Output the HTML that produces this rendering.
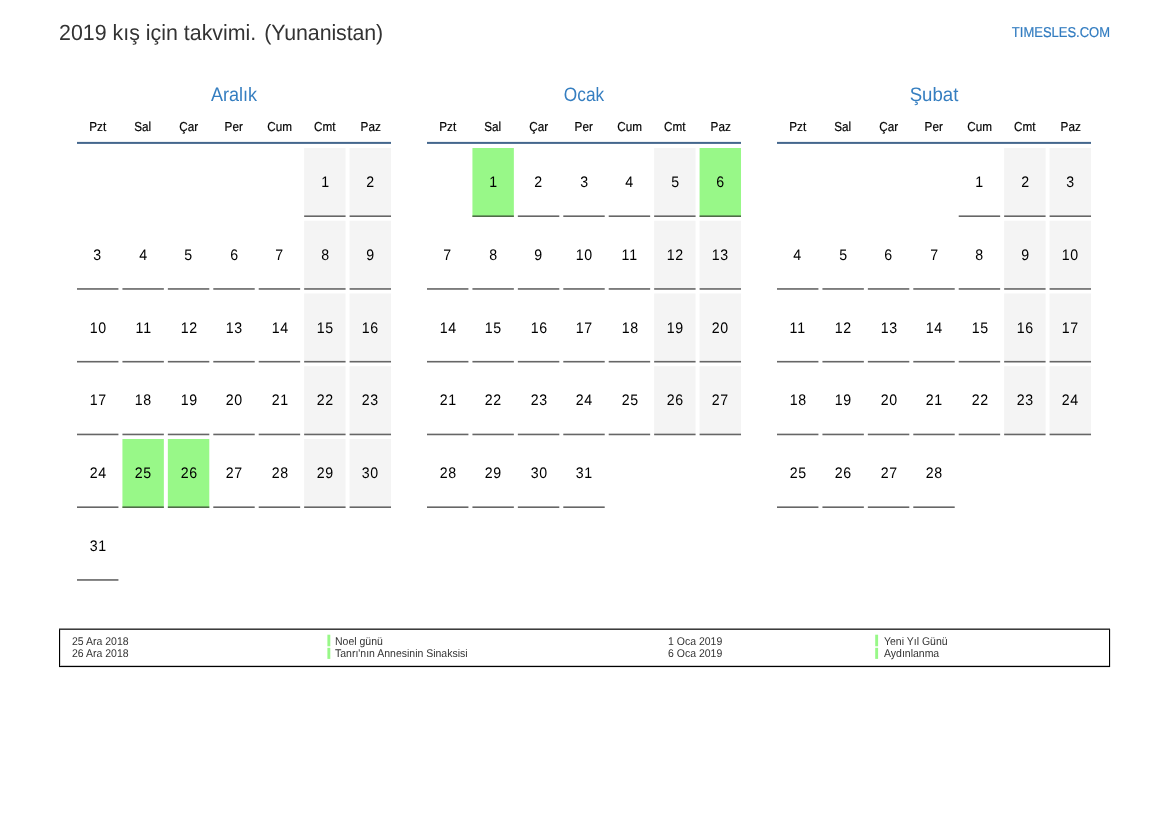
<!DOCTYPE html>
<html lang="tr"><head><meta charset="utf-8"><title>2019 kış için takvimi</title>
<style>
html,body{margin:0;padding:0;background:#fff;}
body{width:1169px;height:827px;position:relative;overflow:hidden;font-family:"Liberation Sans",sans-serif;color:#000;text-rendering:geometricPrecision;}
.abs{position:absolute;white-space:nowrap;}
#pg{position:absolute;left:0;top:0;width:1169px;height:827px;will-change:transform;}
.title{left:59px;top:19.5px;font-size:22px;line-height:26px;color:#333;transform-origin:0 50%;transform:scaleX(0.972);}
.site{right:58.7px;top:22.8px;font-size:14.3px;line-height:18px;color:#327cc0;-webkit-text-stroke:0.2px #327cc0;transform-origin:100% 50%;transform:translateY(0.6px) scaleX(0.909);}
.mname{width:314px;text-align:center;top:82.5px;font-size:19.5px;line-height:24px;color:#357ec0;transform:scaleX(0.925);}
.wd{width:41.43px;text-align:center;top:119px;font-size:13px;line-height:16px;color:#000;-webkit-text-stroke:0.2px #000;transform:translateY(-0.2px) scaleX(0.9);}
.hl{height:2px;width:314px;top:142px;background:#44678d;}
.c{width:41.43px;height:67px;text-align:center;font-size:15.25px;line-height:67px;color:#000;}
.c span{display:inline-block;letter-spacing:0.8px;margin-right:-0.8px;transform:translateY(0.75px) scaleX(0.93);}
.legend{left:59px;top:629px;width:1049px;height:36px;border:1px solid #000;border-top-color:#3c3c3c;box-shadow:0 1px 0 #e9e9e9,1px 0 0 #e2e2e2,inset 0 -1px 0 #cacaca,inset 1px 0 0 #dcdcdc;}
.legtop{left:59px;top:628px;width:1051px;height:1px;background:#909090;}
.lt{font-size:11.2px;line-height:12px;color:#333;transform-origin:0 50%;transform:translateY(0.9px) scaleX(0.9375);}
</style></head><body><div id="pg">
<div class="abs title">2019 kış için takvimi. <span style="margin-left:2.2px;letter-spacing:-0.12px">(Yunanistan)</span></div>
<div class="abs site">TIMESLES.COM</div>
<svg class="abs" style="left:0;top:0" width="1169" height="600" viewBox="0 0 1169 600"><rect x="77.0" y="141.9" width="314" height="2" fill="#44678d"/><rect x="304.15" y="148.00" width="41.43" height="67.5" fill="#f4f4f4"/><rect x="304.15" y="215.40" width="41.43" height="1.6" fill="#666"/><rect x="349.58" y="148.00" width="41.43" height="67.5" fill="#f4f4f4"/><rect x="349.58" y="215.40" width="41.43" height="1.6" fill="#666"/><rect x="77.00" y="288.15" width="41.43" height="1.6" fill="#666"/><rect x="122.43" y="288.15" width="41.43" height="1.6" fill="#666"/><rect x="167.86" y="288.15" width="41.43" height="1.6" fill="#666"/><rect x="213.29" y="288.15" width="41.43" height="1.6" fill="#666"/><rect x="258.72" y="288.15" width="41.43" height="1.6" fill="#666"/><rect x="304.15" y="220.75" width="41.43" height="67.5" fill="#f4f4f4"/><rect x="304.15" y="288.15" width="41.43" height="1.6" fill="#666"/><rect x="349.58" y="220.75" width="41.43" height="67.5" fill="#f4f4f4"/><rect x="349.58" y="288.15" width="41.43" height="1.6" fill="#666"/><rect x="77.00" y="360.90" width="41.43" height="1.6" fill="#666"/><rect x="122.43" y="360.90" width="41.43" height="1.6" fill="#666"/><rect x="167.86" y="360.90" width="41.43" height="1.6" fill="#666"/><rect x="213.29" y="360.90" width="41.43" height="1.6" fill="#666"/><rect x="258.72" y="360.90" width="41.43" height="1.6" fill="#666"/><rect x="304.15" y="293.50" width="41.43" height="67.5" fill="#f4f4f4"/><rect x="304.15" y="360.90" width="41.43" height="1.6" fill="#666"/><rect x="349.58" y="293.50" width="41.43" height="67.5" fill="#f4f4f4"/><rect x="349.58" y="360.90" width="41.43" height="1.6" fill="#666"/><rect x="77.00" y="433.65" width="41.43" height="1.6" fill="#666"/><rect x="122.43" y="433.65" width="41.43" height="1.6" fill="#666"/><rect x="167.86" y="433.65" width="41.43" height="1.6" fill="#666"/><rect x="213.29" y="433.65" width="41.43" height="1.6" fill="#666"/><rect x="258.72" y="433.65" width="41.43" height="1.6" fill="#666"/><rect x="304.15" y="366.25" width="41.43" height="67.5" fill="#f4f4f4"/><rect x="304.15" y="433.65" width="41.43" height="1.6" fill="#666"/><rect x="349.58" y="366.25" width="41.43" height="67.5" fill="#f4f4f4"/><rect x="349.58" y="433.65" width="41.43" height="1.6" fill="#666"/><rect x="77.00" y="506.40" width="41.43" height="1.6" fill="#666"/><rect x="122.43" y="439.00" width="41.43" height="69" fill="#98f888"/><rect x="122.43" y="506.40" width="41.43" height="1.6" fill="#4e6c47"/><rect x="167.86" y="439.00" width="41.43" height="69" fill="#98f888"/><rect x="167.86" y="506.40" width="41.43" height="1.6" fill="#4e6c47"/><rect x="213.29" y="506.40" width="41.43" height="1.6" fill="#666"/><rect x="258.72" y="506.40" width="41.43" height="1.6" fill="#666"/><rect x="304.15" y="439.00" width="41.43" height="67.5" fill="#f4f4f4"/><rect x="304.15" y="506.40" width="41.43" height="1.6" fill="#666"/><rect x="349.58" y="439.00" width="41.43" height="67.5" fill="#f4f4f4"/><rect x="349.58" y="506.40" width="41.43" height="1.6" fill="#666"/><rect x="77.00" y="579.15" width="41.43" height="1.6" fill="#666"/><rect x="427.0" y="141.9" width="314" height="2" fill="#44678d"/><rect x="472.43" y="148.00" width="41.43" height="69" fill="#98f888"/><rect x="472.43" y="215.40" width="41.43" height="1.6" fill="#4e6c47"/><rect x="517.86" y="215.40" width="41.43" height="1.6" fill="#666"/><rect x="563.29" y="215.40" width="41.43" height="1.6" fill="#666"/><rect x="608.72" y="215.40" width="41.43" height="1.6" fill="#666"/><rect x="654.15" y="148.00" width="41.43" height="67.5" fill="#f4f4f4"/><rect x="654.15" y="215.40" width="41.43" height="1.6" fill="#666"/><rect x="699.58" y="148.00" width="41.43" height="69" fill="#98f888"/><rect x="699.58" y="215.40" width="41.43" height="1.6" fill="#4e6c47"/><rect x="427.00" y="288.15" width="41.43" height="1.6" fill="#666"/><rect x="472.43" y="288.15" width="41.43" height="1.6" fill="#666"/><rect x="517.86" y="288.15" width="41.43" height="1.6" fill="#666"/><rect x="563.29" y="288.15" width="41.43" height="1.6" fill="#666"/><rect x="608.72" y="288.15" width="41.43" height="1.6" fill="#666"/><rect x="654.15" y="220.75" width="41.43" height="67.5" fill="#f4f4f4"/><rect x="654.15" y="288.15" width="41.43" height="1.6" fill="#666"/><rect x="699.58" y="220.75" width="41.43" height="67.5" fill="#f4f4f4"/><rect x="699.58" y="288.15" width="41.43" height="1.6" fill="#666"/><rect x="427.00" y="360.90" width="41.43" height="1.6" fill="#666"/><rect x="472.43" y="360.90" width="41.43" height="1.6" fill="#666"/><rect x="517.86" y="360.90" width="41.43" height="1.6" fill="#666"/><rect x="563.29" y="360.90" width="41.43" height="1.6" fill="#666"/><rect x="608.72" y="360.90" width="41.43" height="1.6" fill="#666"/><rect x="654.15" y="293.50" width="41.43" height="67.5" fill="#f4f4f4"/><rect x="654.15" y="360.90" width="41.43" height="1.6" fill="#666"/><rect x="699.58" y="293.50" width="41.43" height="67.5" fill="#f4f4f4"/><rect x="699.58" y="360.90" width="41.43" height="1.6" fill="#666"/><rect x="427.00" y="433.65" width="41.43" height="1.6" fill="#666"/><rect x="472.43" y="433.65" width="41.43" height="1.6" fill="#666"/><rect x="517.86" y="433.65" width="41.43" height="1.6" fill="#666"/><rect x="563.29" y="433.65" width="41.43" height="1.6" fill="#666"/><rect x="608.72" y="433.65" width="41.43" height="1.6" fill="#666"/><rect x="654.15" y="366.25" width="41.43" height="67.5" fill="#f4f4f4"/><rect x="654.15" y="433.65" width="41.43" height="1.6" fill="#666"/><rect x="699.58" y="366.25" width="41.43" height="67.5" fill="#f4f4f4"/><rect x="699.58" y="433.65" width="41.43" height="1.6" fill="#666"/><rect x="427.00" y="506.40" width="41.43" height="1.6" fill="#666"/><rect x="472.43" y="506.40" width="41.43" height="1.6" fill="#666"/><rect x="517.86" y="506.40" width="41.43" height="1.6" fill="#666"/><rect x="563.29" y="506.40" width="41.43" height="1.6" fill="#666"/><rect x="777.0" y="141.9" width="314" height="2" fill="#44678d"/><rect x="958.72" y="215.40" width="41.43" height="1.6" fill="#666"/><rect x="1004.15" y="148.00" width="41.43" height="67.5" fill="#f4f4f4"/><rect x="1004.15" y="215.40" width="41.43" height="1.6" fill="#666"/><rect x="1049.58" y="148.00" width="41.43" height="67.5" fill="#f4f4f4"/><rect x="1049.58" y="215.40" width="41.43" height="1.6" fill="#666"/><rect x="777.00" y="288.15" width="41.43" height="1.6" fill="#666"/><rect x="822.43" y="288.15" width="41.43" height="1.6" fill="#666"/><rect x="867.86" y="288.15" width="41.43" height="1.6" fill="#666"/><rect x="913.29" y="288.15" width="41.43" height="1.6" fill="#666"/><rect x="958.72" y="288.15" width="41.43" height="1.6" fill="#666"/><rect x="1004.15" y="220.75" width="41.43" height="67.5" fill="#f4f4f4"/><rect x="1004.15" y="288.15" width="41.43" height="1.6" fill="#666"/><rect x="1049.58" y="220.75" width="41.43" height="67.5" fill="#f4f4f4"/><rect x="1049.58" y="288.15" width="41.43" height="1.6" fill="#666"/><rect x="777.00" y="360.90" width="41.43" height="1.6" fill="#666"/><rect x="822.43" y="360.90" width="41.43" height="1.6" fill="#666"/><rect x="867.86" y="360.90" width="41.43" height="1.6" fill="#666"/><rect x="913.29" y="360.90" width="41.43" height="1.6" fill="#666"/><rect x="958.72" y="360.90" width="41.43" height="1.6" fill="#666"/><rect x="1004.15" y="293.50" width="41.43" height="67.5" fill="#f4f4f4"/><rect x="1004.15" y="360.90" width="41.43" height="1.6" fill="#666"/><rect x="1049.58" y="293.50" width="41.43" height="67.5" fill="#f4f4f4"/><rect x="1049.58" y="360.90" width="41.43" height="1.6" fill="#666"/><rect x="777.00" y="433.65" width="41.43" height="1.6" fill="#666"/><rect x="822.43" y="433.65" width="41.43" height="1.6" fill="#666"/><rect x="867.86" y="433.65" width="41.43" height="1.6" fill="#666"/><rect x="913.29" y="433.65" width="41.43" height="1.6" fill="#666"/><rect x="958.72" y="433.65" width="41.43" height="1.6" fill="#666"/><rect x="1004.15" y="366.25" width="41.43" height="67.5" fill="#f4f4f4"/><rect x="1004.15" y="433.65" width="41.43" height="1.6" fill="#666"/><rect x="1049.58" y="366.25" width="41.43" height="67.5" fill="#f4f4f4"/><rect x="1049.58" y="433.65" width="41.43" height="1.6" fill="#666"/><rect x="777.00" y="506.40" width="41.43" height="1.6" fill="#666"/><rect x="822.43" y="506.40" width="41.43" height="1.6" fill="#666"/><rect x="867.86" y="506.40" width="41.43" height="1.6" fill="#666"/><rect x="913.29" y="506.40" width="41.43" height="1.6" fill="#666"/></svg>
<div class="abs mname" style="left:77.0px;transform:scaleX(0.925)">Aralık</div>
<div class="abs wd" style="left:77.00px">Pzt</div><div class="abs wd" style="left:122.43px">Sal</div><div class="abs wd" style="left:167.86px">Çar</div><div class="abs wd" style="left:213.29px">Per</div><div class="abs wd" style="left:258.72px">Cum</div><div class="abs wd" style="left:304.15px">Cmt</div><div class="abs wd" style="left:349.58px">Paz</div>
<div class="abs c" style="left:304.15px;top:148.00px"><span>1</span></div><div class="abs c" style="left:349.58px;top:148.00px"><span>2</span></div><div class="abs c" style="left:77.00px;top:220.75px"><span>3</span></div><div class="abs c" style="left:122.43px;top:220.75px"><span>4</span></div><div class="abs c" style="left:167.86px;top:220.75px"><span>5</span></div><div class="abs c" style="left:213.29px;top:220.75px"><span>6</span></div><div class="abs c" style="left:258.72px;top:220.75px"><span>7</span></div><div class="abs c" style="left:304.15px;top:220.75px"><span>8</span></div><div class="abs c" style="left:349.58px;top:220.75px"><span>9</span></div><div class="abs c" style="left:77.00px;top:293.50px"><span>10</span></div><div class="abs c" style="left:122.43px;top:293.50px"><span>11</span></div><div class="abs c" style="left:167.86px;top:293.50px"><span>12</span></div><div class="abs c" style="left:213.29px;top:293.50px"><span>13</span></div><div class="abs c" style="left:258.72px;top:293.50px"><span>14</span></div><div class="abs c" style="left:304.15px;top:293.50px"><span>15</span></div><div class="abs c" style="left:349.58px;top:293.50px"><span>16</span></div><div class="abs c" style="left:77.00px;top:366.25px"><span>17</span></div><div class="abs c" style="left:122.43px;top:366.25px"><span>18</span></div><div class="abs c" style="left:167.86px;top:366.25px"><span>19</span></div><div class="abs c" style="left:213.29px;top:366.25px"><span>20</span></div><div class="abs c" style="left:258.72px;top:366.25px"><span>21</span></div><div class="abs c" style="left:304.15px;top:366.25px"><span>22</span></div><div class="abs c" style="left:349.58px;top:366.25px"><span>23</span></div><div class="abs c" style="left:77.00px;top:439.00px"><span>24</span></div><div class="abs c" style="left:122.43px;top:439.00px"><span>25</span></div><div class="abs c" style="left:167.86px;top:439.00px"><span>26</span></div><div class="abs c" style="left:213.29px;top:439.00px"><span>27</span></div><div class="abs c" style="left:258.72px;top:439.00px"><span>28</span></div><div class="abs c" style="left:304.15px;top:439.00px"><span>29</span></div><div class="abs c" style="left:349.58px;top:439.00px"><span>30</span></div><div class="abs c" style="left:77.00px;top:511.75px"><span>31</span></div>
<div class="abs mname" style="left:427.0px;transform:scaleX(0.885)">Ocak</div>
<div class="abs wd" style="left:427.00px">Pzt</div><div class="abs wd" style="left:472.43px">Sal</div><div class="abs wd" style="left:517.86px">Çar</div><div class="abs wd" style="left:563.29px">Per</div><div class="abs wd" style="left:608.72px">Cum</div><div class="abs wd" style="left:654.15px">Cmt</div><div class="abs wd" style="left:699.58px">Paz</div>
<div class="abs c" style="left:472.43px;top:148.00px"><span>1</span></div><div class="abs c" style="left:517.86px;top:148.00px"><span>2</span></div><div class="abs c" style="left:563.29px;top:148.00px"><span>3</span></div><div class="abs c" style="left:608.72px;top:148.00px"><span>4</span></div><div class="abs c" style="left:654.15px;top:148.00px"><span>5</span></div><div class="abs c" style="left:699.58px;top:148.00px"><span>6</span></div><div class="abs c" style="left:427.00px;top:220.75px"><span>7</span></div><div class="abs c" style="left:472.43px;top:220.75px"><span>8</span></div><div class="abs c" style="left:517.86px;top:220.75px"><span>9</span></div><div class="abs c" style="left:563.29px;top:220.75px"><span>10</span></div><div class="abs c" style="left:608.72px;top:220.75px"><span>11</span></div><div class="abs c" style="left:654.15px;top:220.75px"><span>12</span></div><div class="abs c" style="left:699.58px;top:220.75px"><span>13</span></div><div class="abs c" style="left:427.00px;top:293.50px"><span>14</span></div><div class="abs c" style="left:472.43px;top:293.50px"><span>15</span></div><div class="abs c" style="left:517.86px;top:293.50px"><span>16</span></div><div class="abs c" style="left:563.29px;top:293.50px"><span>17</span></div><div class="abs c" style="left:608.72px;top:293.50px"><span>18</span></div><div class="abs c" style="left:654.15px;top:293.50px"><span>19</span></div><div class="abs c" style="left:699.58px;top:293.50px"><span>20</span></div><div class="abs c" style="left:427.00px;top:366.25px"><span>21</span></div><div class="abs c" style="left:472.43px;top:366.25px"><span>22</span></div><div class="abs c" style="left:517.86px;top:366.25px"><span>23</span></div><div class="abs c" style="left:563.29px;top:366.25px"><span>24</span></div><div class="abs c" style="left:608.72px;top:366.25px"><span>25</span></div><div class="abs c" style="left:654.15px;top:366.25px"><span>26</span></div><div class="abs c" style="left:699.58px;top:366.25px"><span>27</span></div><div class="abs c" style="left:427.00px;top:439.00px"><span>28</span></div><div class="abs c" style="left:472.43px;top:439.00px"><span>29</span></div><div class="abs c" style="left:517.86px;top:439.00px"><span>30</span></div><div class="abs c" style="left:563.29px;top:439.00px"><span>31</span></div>
<div class="abs mname" style="left:777.0px;transform:scaleX(0.955)">Şubat</div>
<div class="abs wd" style="left:777.00px">Pzt</div><div class="abs wd" style="left:822.43px">Sal</div><div class="abs wd" style="left:867.86px">Çar</div><div class="abs wd" style="left:913.29px">Per</div><div class="abs wd" style="left:958.72px">Cum</div><div class="abs wd" style="left:1004.15px">Cmt</div><div class="abs wd" style="left:1049.58px">Paz</div>
<div class="abs c" style="left:958.72px;top:148.00px"><span>1</span></div><div class="abs c" style="left:1004.15px;top:148.00px"><span>2</span></div><div class="abs c" style="left:1049.58px;top:148.00px"><span>3</span></div><div class="abs c" style="left:777.00px;top:220.75px"><span>4</span></div><div class="abs c" style="left:822.43px;top:220.75px"><span>5</span></div><div class="abs c" style="left:867.86px;top:220.75px"><span>6</span></div><div class="abs c" style="left:913.29px;top:220.75px"><span>7</span></div><div class="abs c" style="left:958.72px;top:220.75px"><span>8</span></div><div class="abs c" style="left:1004.15px;top:220.75px"><span>9</span></div><div class="abs c" style="left:1049.58px;top:220.75px"><span>10</span></div><div class="abs c" style="left:777.00px;top:293.50px"><span>11</span></div><div class="abs c" style="left:822.43px;top:293.50px"><span>12</span></div><div class="abs c" style="left:867.86px;top:293.50px"><span>13</span></div><div class="abs c" style="left:913.29px;top:293.50px"><span>14</span></div><div class="abs c" style="left:958.72px;top:293.50px"><span>15</span></div><div class="abs c" style="left:1004.15px;top:293.50px"><span>16</span></div><div class="abs c" style="left:1049.58px;top:293.50px"><span>17</span></div><div class="abs c" style="left:777.00px;top:366.25px"><span>18</span></div><div class="abs c" style="left:822.43px;top:366.25px"><span>19</span></div><div class="abs c" style="left:867.86px;top:366.25px"><span>20</span></div><div class="abs c" style="left:913.29px;top:366.25px"><span>21</span></div><div class="abs c" style="left:958.72px;top:366.25px"><span>22</span></div><div class="abs c" style="left:1004.15px;top:366.25px"><span>23</span></div><div class="abs c" style="left:1049.58px;top:366.25px"><span>24</span></div><div class="abs c" style="left:777.00px;top:439.00px"><span>25</span></div><div class="abs c" style="left:822.43px;top:439.00px"><span>26</span></div><div class="abs c" style="left:867.86px;top:439.00px"><span>27</span></div><div class="abs c" style="left:913.29px;top:439.00px"><span>28</span></div>
<div class="abs legtop"></div><div class="abs legend"></div>
<svg class="abs" style="left:0;top:620px" width="1169" height="50" viewBox="0 620 1169 50"><rect x="327.4" y="634.7" width="2.9" height="11.6" fill="#98f888"/><rect x="327.4" y="647.8" width="2.9" height="11.1" fill="#98f888"/><rect x="875.2" y="634.7" width="2.9" height="11.6" fill="#98f888"/><rect x="875.2" y="647.8" width="2.9" height="11.1" fill="#98f888"/></svg>
<div class="abs lt" style="left:71.9px;top:635px">25 Ara 2018</div><div class="abs lt" style="left:335.1px;top:635px">Noel günü</div>
<div class="abs lt" style="left:71.9px;top:647px">26 Ara 2018</div><div class="abs lt" style="left:335.1px;top:647px">Tanrı'nın Annesinin Sinaksisi</div>
<div class="abs lt" style="left:667.9px;top:635px">1 Oca 2019</div><div class="abs lt" style="left:884.0px;top:635px">Yeni Yıl Günü</div>
<div class="abs lt" style="left:667.9px;top:647px">6 Oca 2019</div><div class="abs lt" style="left:884.0px;top:647px">Aydınlanma</div>
</div></body></html>
